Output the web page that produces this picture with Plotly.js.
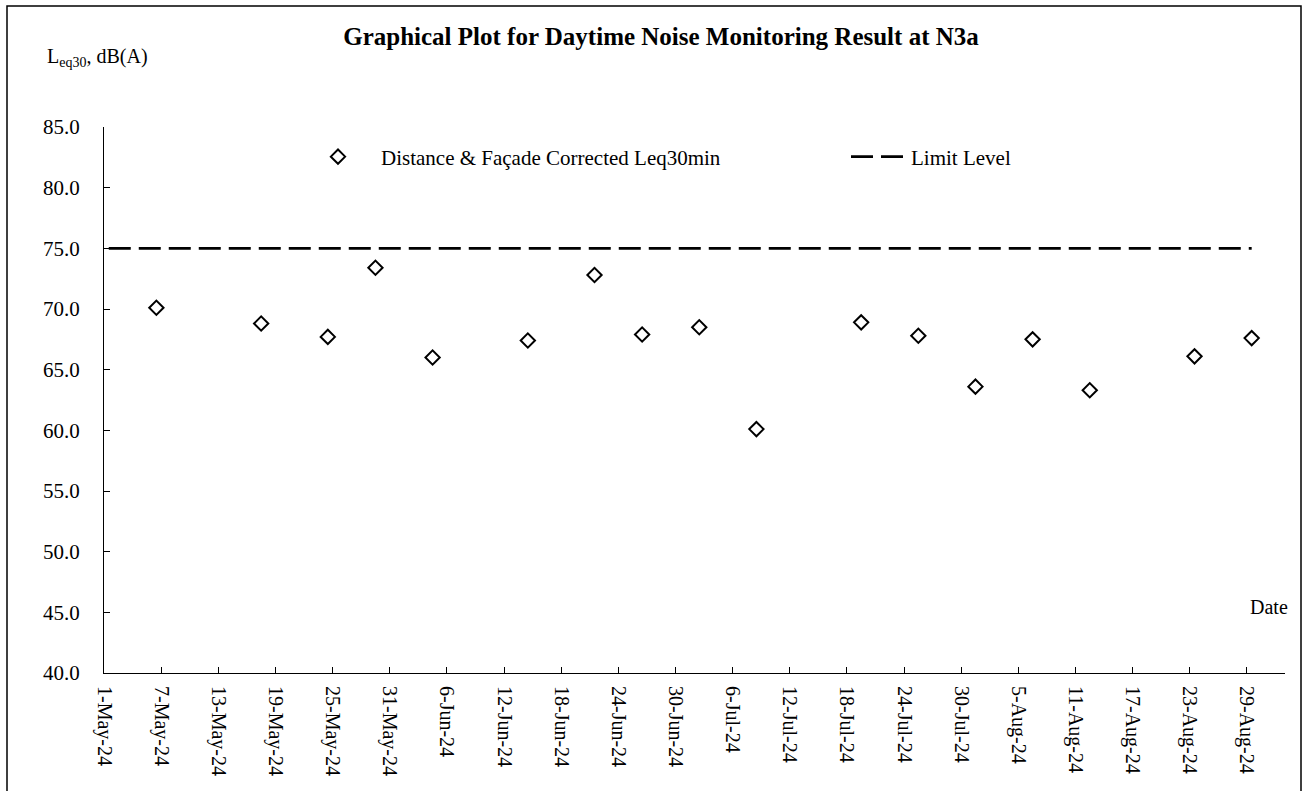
<!DOCTYPE html>
<html>
<head>
<meta charset="utf-8">
<script src="https://cdn.plot.ly/plotly-3.0.1.min.js"></script>
<style>
html,body{margin:0;padding:0;background:#fff;}
#chart{width:1309px;height:791px;}
</style>
</head>
<body>
<div id="chart"></div>
<script>
// Measurement dates and corrected Leq30min values
const dates = ['2024-05-06','2024-05-17','2024-05-24','2024-05-29','2024-06-04','2024-06-14',
  '2024-06-21','2024-06-26','2024-07-02','2024-07-08','2024-07-19','2024-07-25',
  '2024-07-31','2024-08-06','2024-08-12','2024-08-23','2024-08-29'];
const leq = [70.1, 68.8, 67.7, 73.4, 66.0, 67.4, 72.8, 67.9, 68.5, 60.1, 68.9, 67.8,
  63.6, 67.5, 63.3, 66.1, 67.6];
const limitDates = ['2024-05-01','2024-08-29'];
const limitLevel = [75, 75];
const seriesName = 'Distance & Façade Corrected Leq30min';
const limitName = 'Limit Level';

const FONT = 'Liberation Serif';
const mid = d => d + ' 12:00';

const L = 104, R = 24, T = 127, B = 118, W = 1309, H = 791;
const pw = W - L - R, ph = H - T - B;
const px = x => (x - L) / pw;
const py = y => (H - B - y) / ph;

const traces = [
  {
    x: limitDates.map(mid), y: limitLevel, name: limitName, type: 'scatter', mode: 'lines',
    line: {color: '#000', width: 2.8, dash: '22px,8px'}, legend: 'legend2', hoverinfo: 'skip'
  },
  {
    x: dates.map(mid), y: leq, name: seriesName, type: 'scatter', mode: 'markers',
    marker: {symbol: 'diamond-open', size: 11, color: '#000', line: {width: 2, color: '#000'}},
    legend: 'legend'
  }
];

const layout = {
  width: W, height: H,
  margin: {l: L, r: R, t: T, b: B, pad: 0},
  paper_bgcolor: '#fff', plot_bgcolor: '#fff',
  font: {family: FONT, color: '#000', size: 20},
  title: {text: '<b>Graphical Plot for Daytime Noise Monitoring Result at N3a</b>',
    font: {family: FONT, size: 25, color: '#000'}, x: 661 / W, xref: 'container', xanchor: 'center',
    y: 1 - 36 / H, yanchor: 'middle'},
  showlegend: true,
  legend: {x: px(295), y: py(157), xanchor: 'left', yanchor: 'middle', orientation: 'h',
    itemwidth: 76, bgcolor: 'rgba(0,0,0,0)', font: {family: FONT, size: 21, color: '#000'}},
  legend2: {x: px(846), y: py(157), xanchor: 'left', yanchor: 'middle', orientation: 'h',
    itemwidth: 55, bgcolor: 'rgba(0,0,0,0)', font: {family: FONT, size: 21, color: '#000'}},
  xaxis: {
    type: 'date', range: ['2024-05-01', '2024-09-02'],
    tick0: '2024-05-01', dtick: 6 * 86400000, tickformat: '%-d-%b-%y',
    tickangle: 90, ticks: 'inside', ticklen: 6, tickcolor: '#000', tickwidth: 1,
    showline: true, linecolor: '#000', linewidth: 1, showgrid: false, zeroline: false,
    tickfont: {family: FONT, size: 20, color: '#000'}, ticklabelstandoff: 8
  },
  yaxis: {
    range: [40, 85], dtick: 5, tick0: 40, tickformat: '.1f',
    ticks: 'inside', ticklen: 6, tickcolor: '#000', tickwidth: 1,
    showline: true, linecolor: '#000', linewidth: 1, showgrid: false, zeroline: false,
    tickfont: {family: FONT, size: 21, color: '#000'}, ticklabelstandoff: 19
  },
  annotations: [
    {text: 'L<sub>eq30</sub>, dB(A)', xref: 'paper', yref: 'paper', x: px(45), y: py(57),
      xanchor: 'left', yanchor: 'middle', showarrow: false, font: {family: FONT, size: 20, color: '#000'}},
    {text: 'Date', xref: 'paper', yref: 'paper', x: px(1290), y: py(607),
      xanchor: 'right', yanchor: 'middle', showarrow: false, font: {family: FONT, size: 20, color: '#000'}}
  ],
  shapes: [
    {type: 'path', xref: 'paper', yref: 'paper',
      path: `M ${px(7)} ${py(H + 2)} L ${px(7)} ${py(6)} L ${px(1301)} ${py(6)} L ${px(1301)} ${py(H + 2)}`,
      line: {color: '#000', width: 1.5}}
  ]
};

Plotly.newPlot('chart', traces, layout, {displayModeBar: false, staticPlot: true});
</script>
</body>
</html>
